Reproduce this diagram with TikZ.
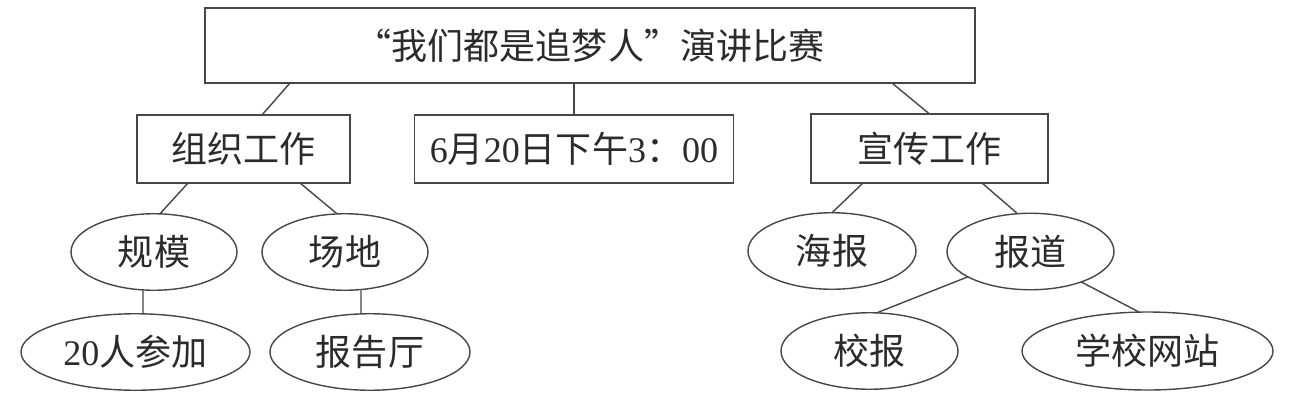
\documentclass[tikz,border=0pt]{standalone}
\usepackage{fontspec}
\setmainfont{Liberation Serif}
\newfontfamily\cjk{Noto Sans CJK SC}
\usepackage{xcolor}
\usepackage{tikz}
\usetikzlibrary{shapes.geometric}
\definecolor{MapInk}{HTML}{2B2B2B}
\definecolor{MapLine}{HTML}{474747}

\begin{document}
\begin{tikzpicture}[
    x=1cm,y=1cm,
    box/.style={draw=MapLine, line width=0.8pt, rectangle, inner sep=0pt, outer sep=0pt, minimum height=1.36cm, text=MapInk, font=\fontsize{20.5}{24}\selectfont},
    bubble/.style={box, ellipse, minimum height=1.53cm},
    link/.style={draw=MapLine, line width=0.8pt}
  ]
    \useasboundingbox (0,0) rectangle (25.8,-8.02);

    \node[box, minimum width=15.4cm, minimum height=1.5cm] (title) at (11.8,-0.91) {\cjk “我们都是追梦人”演讲比赛};
    \node[box, minimum width=4.26cm] (org) at (4.87,-2.98) {\cjk 组织工作};
    \node[box, minimum width=6.38cm] (time) at (11.48,-2.98) {6{\cjk 月}20{\cjk 日下午}3{\cjk ：}00};
    \node[box, minimum width=4.74cm, minimum height=1.38cm] (pub) at (18.59,-2.97) {\cjk 宣传工作};

    \node[bubble, minimum width=3.32cm] (scale) at (3.08,-5.04) {\cjk 规模};
    \node[bubble, minimum width=3.32cm] (venue) at (6.90,-5.04) {\cjk 场地};
    \node[bubble, minimum width=4.58cm] (people) at (2.71,-7.04) {20{\cjk 人参加}};
    \node[bubble, minimum width=4.0cm] (hall) at (7.40,-7.04) {\cjk 报告厅};

    \node[bubble, minimum width=3.36cm] (poster) at (16.64,-5.02) {\cjk 海报};
    \node[bubble, minimum width=3.34cm] (report) at (20.61,-5.03) {\cjk 报道};
    \node[bubble, minimum width=3.54cm] (paper) at (17.39,-7.02) {\cjk 校报};
    \node[bubble, minimum width=5.02cm, minimum height=1.56cm] (web) at (22.95,-7.02) {\cjk 学校网站};

    \draw[link] ([xshift=-6.0cm]title.south) -- ([xshift=0.37cm]org.north);
    \draw[link] (title.south -| time.north) -- (time.north);
    \draw[link] ([xshift=6.04cm]title.south) -- (pub.north);

    \draw[link] ([xshift=-1.11cm]org.south) -- ([xshift=0.12cm]scale.north);
    \draw[link] ([xshift=1.13cm]org.south) -- ([xshift=-0.16cm]venue.north);
    \draw[link] ([xshift=-0.22cm]scale.south) -- ([xshift=0.15cm]people.north);
    \draw[link] ([xshift=0.32cm]venue.south) -- ([xshift=-0.18cm]hall.north);

    \draw[link] ([xshift=-1.33cm]pub.south) -- (poster.north);
    \draw[link] ([xshift=1.05cm]pub.south) -- ([xshift=-0.27cm]report.north);
    \draw[link] (report.202) -- ([xshift=0.15cm]paper.north);
    \draw[link] (report.329) -- ([xshift=-0.17cm]web.north);
  \end{tikzpicture}
\end{document}
